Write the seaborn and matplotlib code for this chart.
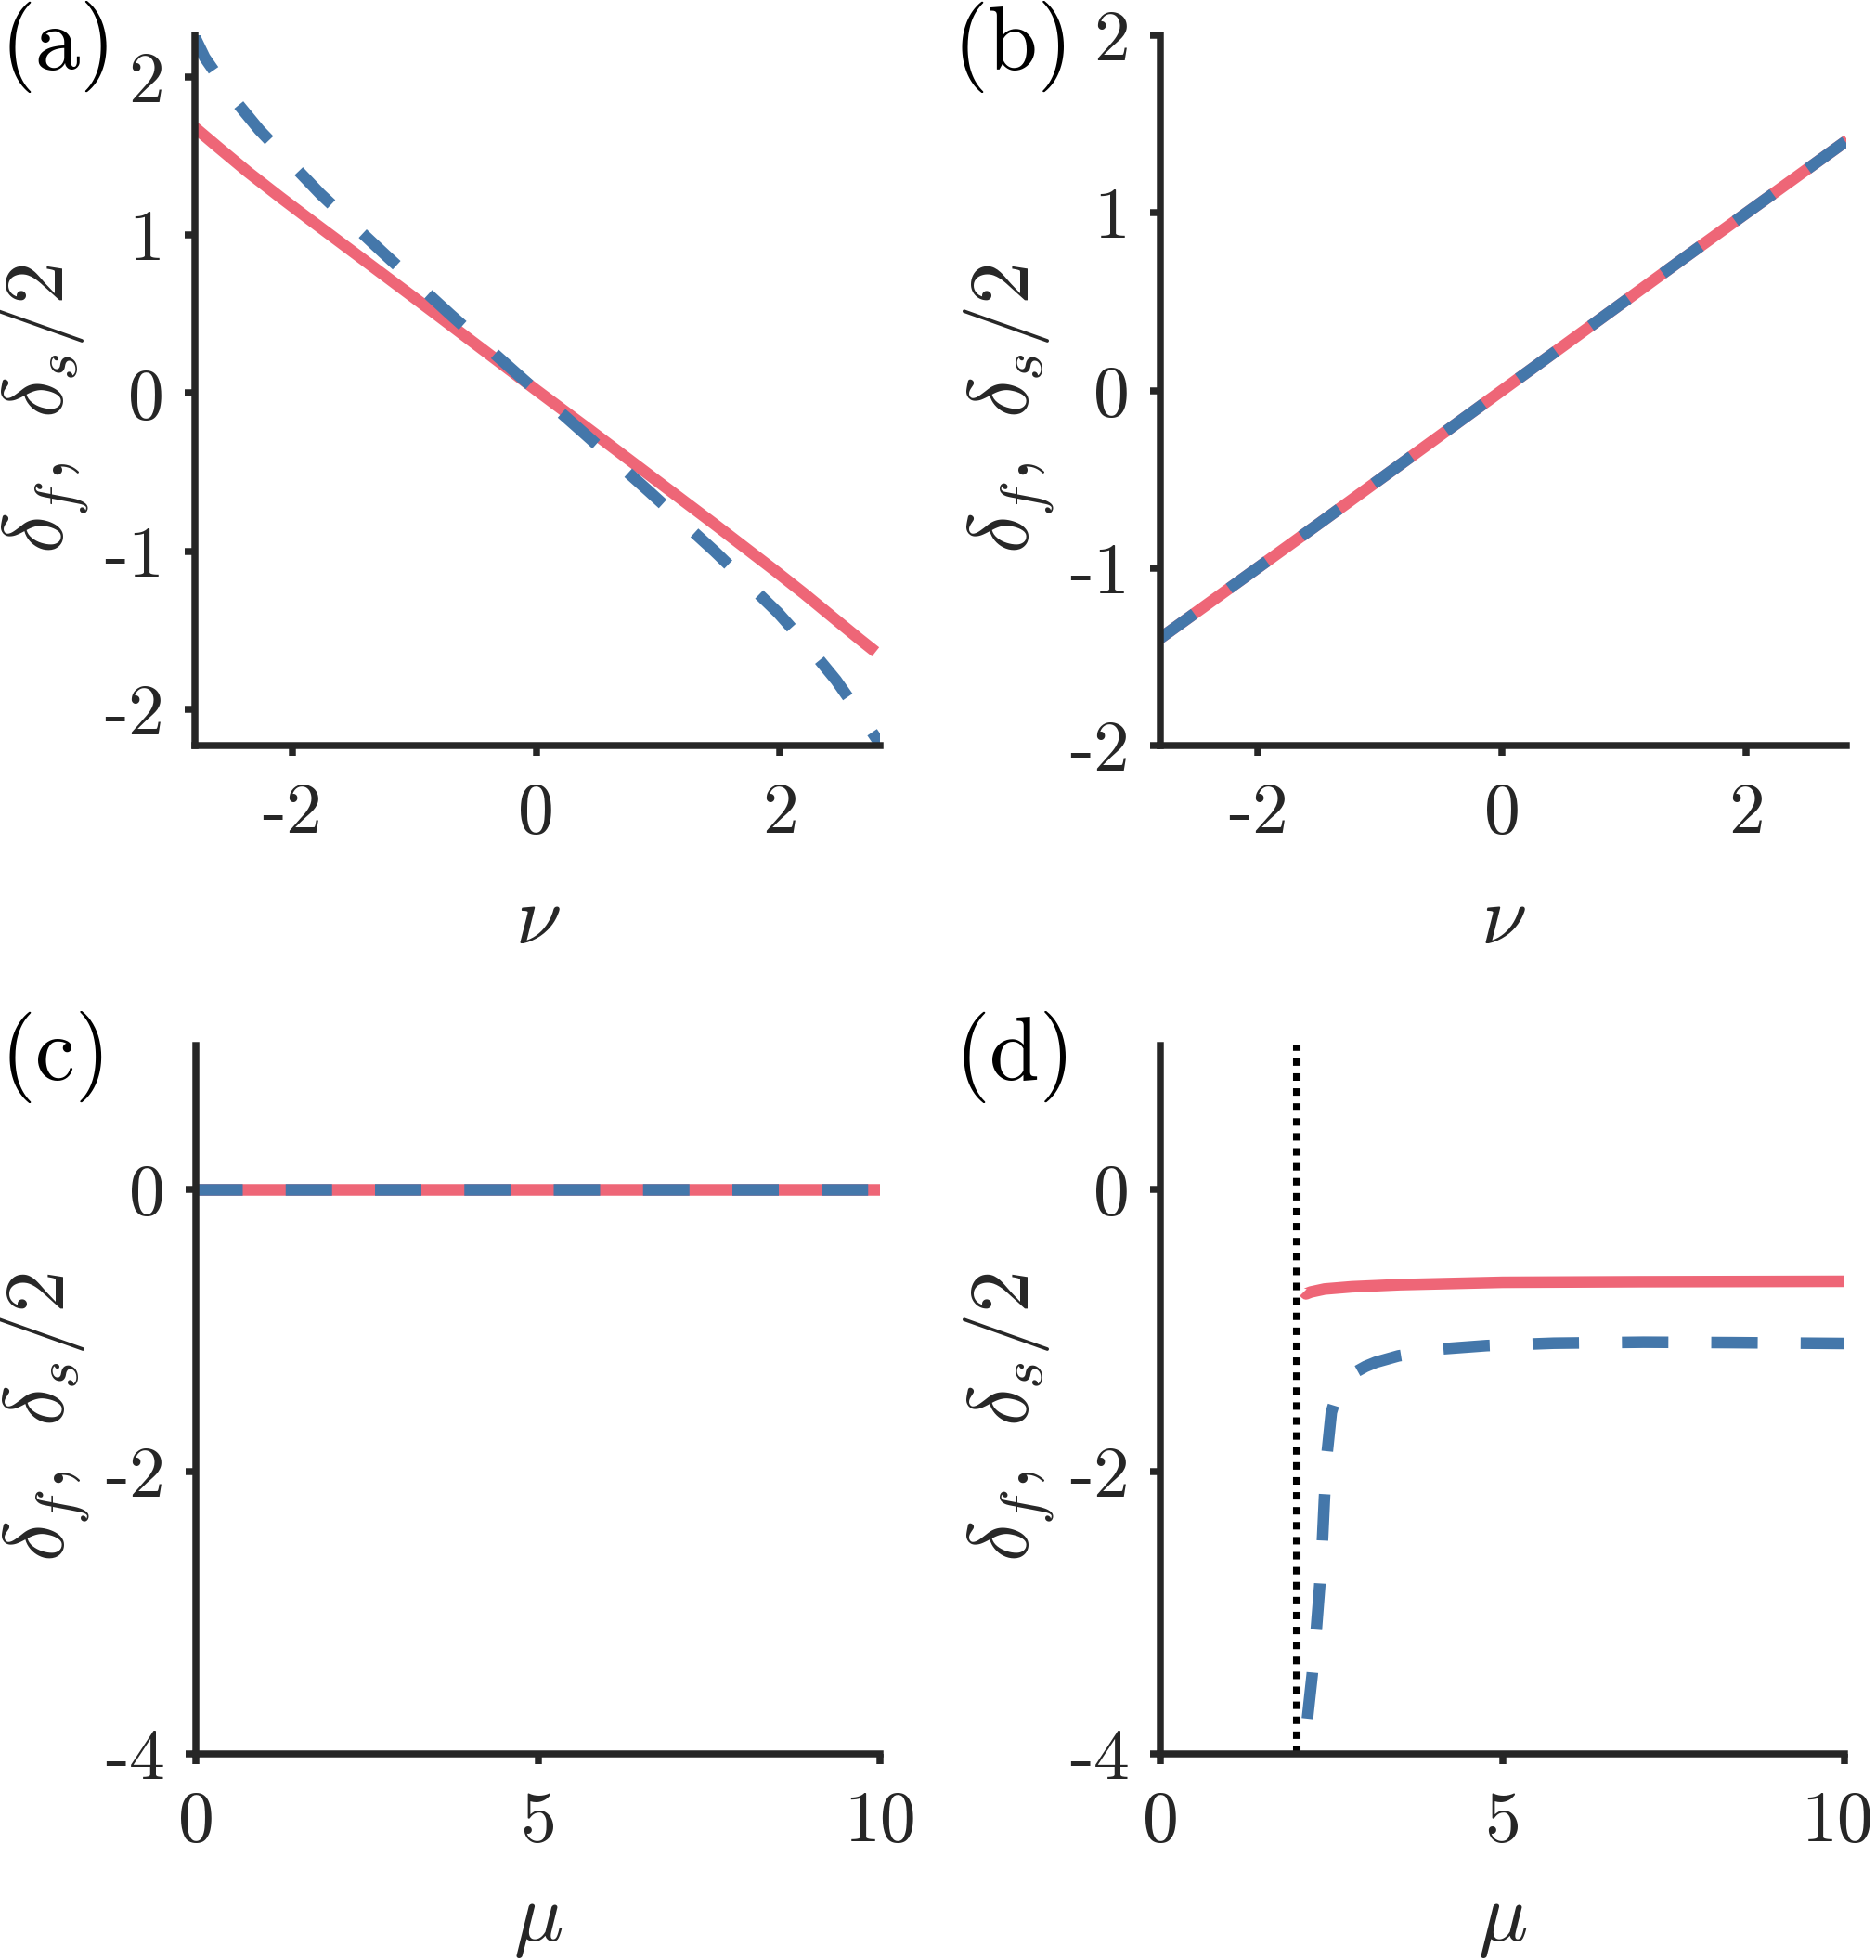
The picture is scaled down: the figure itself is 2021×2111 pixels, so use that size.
import matplotlib
matplotlib.use('Agg')
import matplotlib.pyplot as plt # graficos
import matplotlib.transforms as mtransforms
import seaborn as sns # estilo e linhas

# Painel (a)
nu_a_f = [-2.83, -2.6, -2.366, -2.1, -1.86, -1.354, -0.847, -0.342, 0.0, 0.443, 0.949, 1.456, 1.962, 2.2, 2.468, 2.65, 2.784]
delta_a_f = [1.70, 1.55, 1.40, 1.24, 1.10, 0.808, 0.515, 0.22, 0.02, -0.235, -0.53, -0.825, -1.125, -1.27, -1.44, -1.555, -1.637]
nu_a_s = [-2.83, -2.72, -2.50, -2.273, -2.0, -1.771, -1.24, -0.703, -0.164, 0.387, 0.929, 1.463, 1.982, 2.25, 2.46, 2.65, 2.83]
delta_a_s = [2.30, 2.124, 1.88, 1.667, 1.446, 1.261, 0.877, 0.497, 0.127, -0.25, -0.624, -1.0, -1.388, -1.62, -1.817, -2.026, -2.23]

# Painel (b)
nu_b = [-2.83, -1.5, 0.0, 1.5, 2.83]
delta_b_f = [-1.41, -0.75, 0.0, 0.75, 1.41]
delta_b_s = [-1.41, -0.75, 0.0, 0.75, 1.41]

# Painel (c)
mu_c = [0.0, 2.5, 5.0, 7.5, 10.0]
delta_c_f = [0.0, 0.0, 0.0, 0.0, 0.0]
delta_c_s = [0.0, 0.0, 0.0, 0.0, 0.0]

# Painel (d)
mu_d_f = [2.10, 2.13, 2.20, 2.40, 2.80, 3.50, 5.00, 7.00, 10.0]
delta_d_f = [-0.725, -0.74, -0.727, -0.706, -0.69, -0.675, -0.658, -0.654, -0.651]
mu_d_s = [2.15, 2.22, 2.28, 2.33, 2.37, 2.40, 2.44, 2.50, 2.57, 2.65, 2.75, 2.87, 3.00, 3.15, 3.48, 4.13, 4.77, 5.75, 7.06, 8.36, 10.0]
delta_d_s = [-3.75, -3.44, -3.12, -2.81, -2.49, -2.18, -1.86, -1.58, -1.47, -1.40, -1.34, -1.29, -1.255, -1.225, -1.18, -1.13, -1.107, -1.09, -1.083, -1.086, -1.092]
mu_limite = 2.0 # linha pontilhada

# Ticks
ticks_nu = [-2, 0, 2]
ticks_delta_ab = [-2, -1, 0, 1, 2]
ticks_mu = [0, 5, 10]
ticks_delta_cd = [-4, -2, 0]

sns.set_theme(style='ticks')
plt.rcParams['font.family'] = ['cmr10', 'DejaVu Serif']
plt.rcParams['mathtext.fontset'] = 'cm'
plt.rcParams['axes.unicode_minus'] = False
plt.rcParams['axes.formatter.use_mathtext'] = False

cor_f = '#EE6677'
cor_s = '#4477AA'
cinza = '#262626'
lw = 9
tracejado = (0, (4.0, 3.7))

W, H = 2021, 2111
fig = plt.figure(figsize=(W / 100, H / 100), dpi=100)

def caixa(x0, x1, y0, y1):
  return [x0 / W, 1 - y1 / H, (x1 - x0) / W, (y1 - y0) / H]

ax_a = fig.add_axes(caixa(210, 948, 38, 803))
ax_b = fig.add_axes(caixa(1250, 1989, 38, 803))
ax_c = fig.add_axes(caixa(211, 948, 1126, 1889))
ax_d = fig.add_axes(caixa(1250, 1987, 1126, 1889))

def desenha(ax, x_f, y_f, x_s, y_s):
  sns.lineplot(x=x_f, y=y_f, ax=ax, color=cor_f, lw=lw, solid_capstyle='butt')
  sns.lineplot(x=x_s, y=y_s, ax=ax, color=cor_s, lw=lw, linestyle=tracejado, dash_capstyle='butt')

desenha(ax_a, nu_a_f, delta_a_f, nu_a_s, delta_a_s)
desenha(ax_b, nu_b, delta_b_f, nu_b, delta_b_s)
desenha(ax_c, mu_c, delta_c_f, mu_c, delta_c_s)
ax_d.axvline(mu_limite, color='black', lw=5.8, linestyle=(0, (1, 1)), dash_capstyle='butt')
desenha(ax_d, mu_d_f, delta_d_f, mu_d_s, delta_d_s)

ax_a.set_xlim(-2.8, 2.82)
ax_a.set_ylim(-2.23, 2.265)
ax_b.set_xlim(-2.8, 2.82)
ax_b.set_ylim(-2, 2)
for ax in (ax_c, ax_d):
  ax.set_xlim(0, 10)
  ax.set_ylim(-4, 1.02)

for ax in (ax_a, ax_b):
  ax.set_xticks(ticks_nu)
  ax.set_xticklabels([str(t) for t in ticks_nu])
  ax.set_yticks(ticks_delta_ab)
  ax.set_yticklabels([str(t) for t in ticks_delta_ab])
  ax.set_xlabel(r'$\nu$', fontsize=64, color=cinza)
  ax.xaxis.set_label_coords(0.5, -0.197)
for ax in (ax_c, ax_d):
  ax.set_xticks(ticks_mu)
  ax.set_xticklabels([str(t) for t in ticks_mu])
  ax.set_yticks(ticks_delta_cd)
  ax.set_yticklabels([str(t) for t in ticks_delta_cd])
  ax.set_xlabel(r'$\mu$', fontsize=64, color=cinza)
  ax.xaxis.set_label_coords(0.5, -0.187)

for ax in (ax_a, ax_b, ax_c, ax_d):
  sns.despine(ax=ax)
  for lado in ('left', 'bottom'):
    ax.spines[lado].set_linewidth(5.4)
    ax.spines[lado].set_color(cinza)
    ax.spines[lado].set_capstyle('projecting')
  ax.tick_params(direction='out', length=8, width=5.4, color=cinza, labelsize=56, labelcolor=cinza)
  ax.tick_params(axis='x', pad=21)
  ax.tick_params(axis='y', pad=16)
  ax.set_ylabel(r'$\delta_f,\ \delta_s/2$', fontsize=66, color=cinza)
  ax.yaxis.set_label_coords(-0.152, 0.475)
  ax.grid(False)

# O "10" do painel (d) encosta na borda: desloca uns pixels para a esquerda
rotulo_10 = ax_d.get_xticklabels()[-1]
rotulo_10.set_transform(rotulo_10.get_transform() + mtransforms.ScaledTranslation(-0.08, 0, fig.dpi_scale_trans))

# Rotulos dos paineis
for texto, x, y in [('(a)', 0, 75), ('(b)', 1027, 75), ('(c)', 0, 1163), ('(d)', 1029, 1163)]:
  fig.text(x / W, 1 - y / H, texto, fontsize=70, ha='left', va='baseline', color='black')

fig.savefig('out.png', dpi=100)
